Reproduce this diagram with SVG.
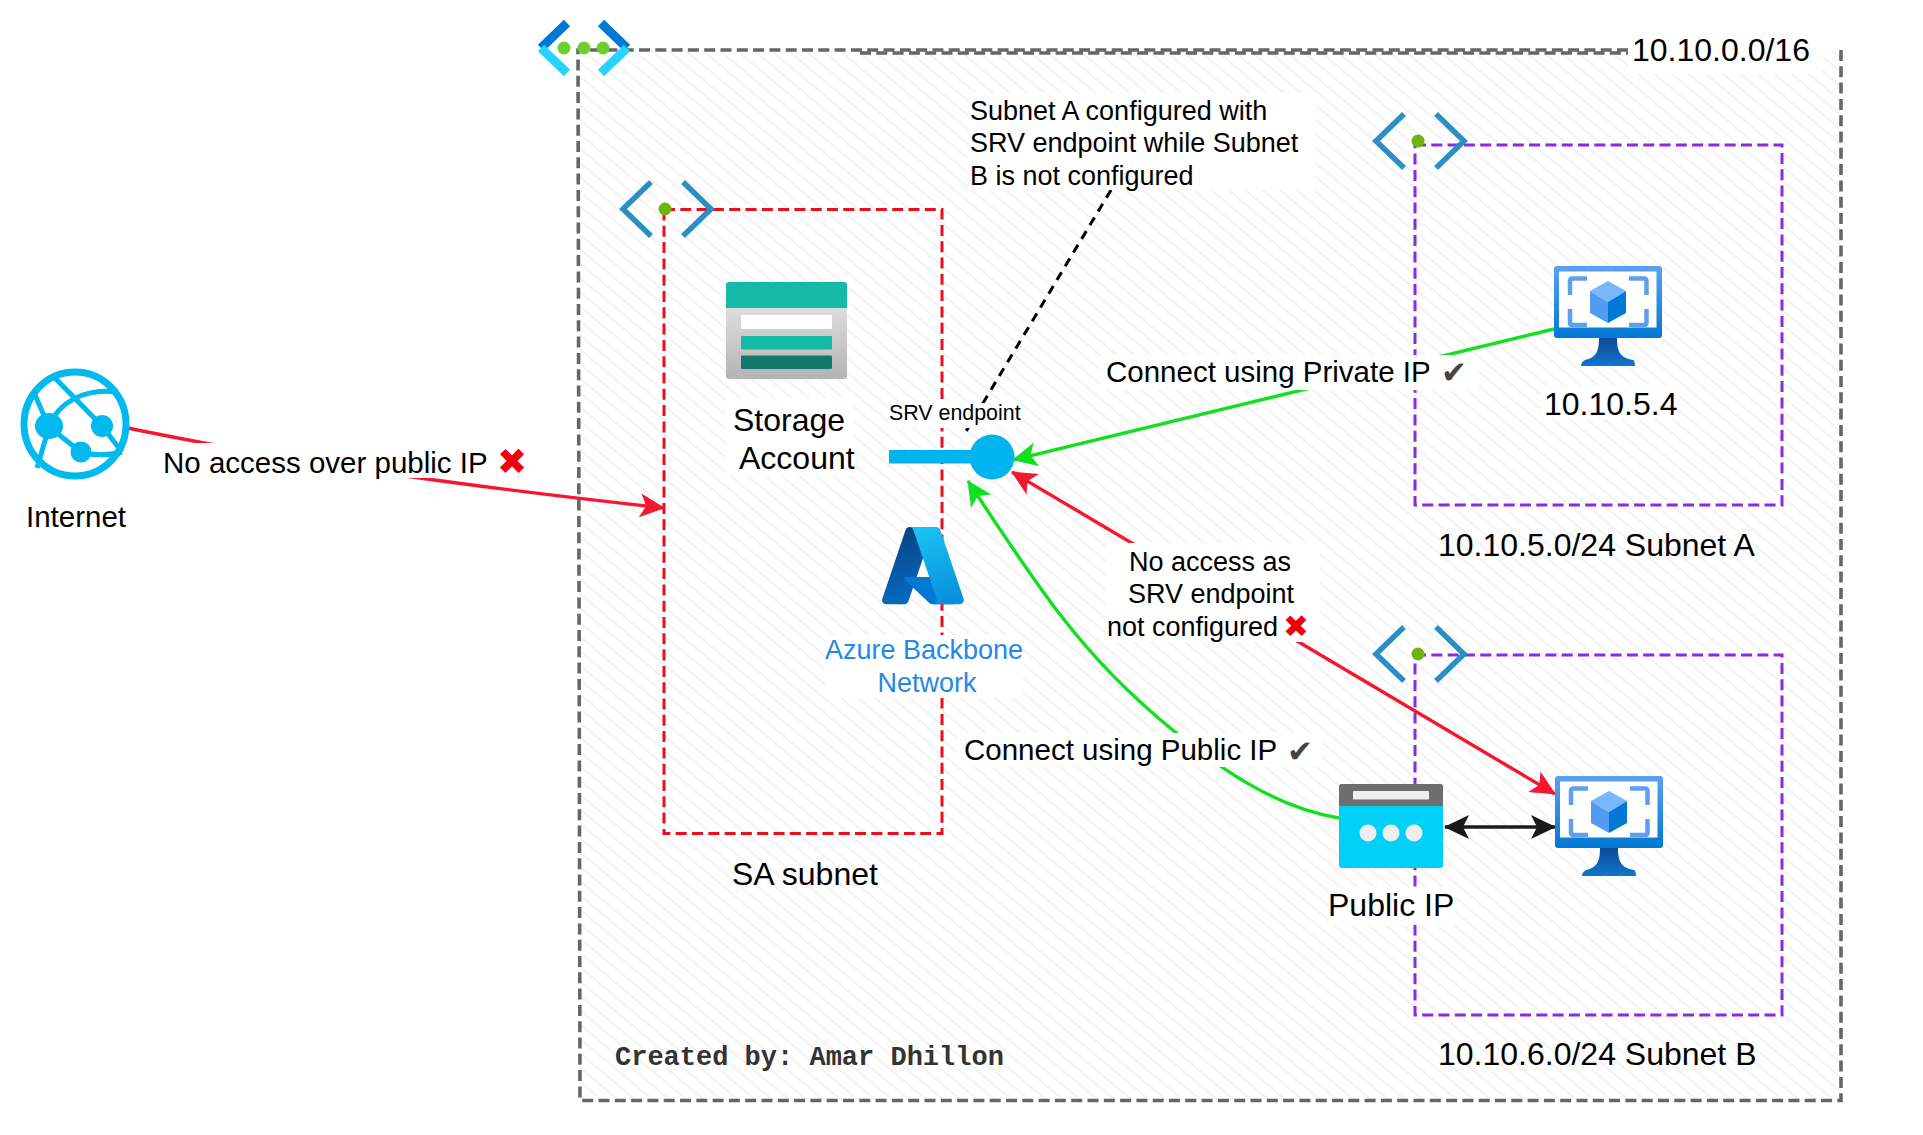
<svg xmlns="http://www.w3.org/2000/svg" xmlns:xlink="http://www.w3.org/1999/xlink" width="1923" height="1135" viewBox="0 0 1923 1135">
<style>
text{font-family:"Liberation Sans",Arial,sans-serif;fill:#000}
.t32{font-size:32px}.t295{font-size:29.5px}.t27{font-size:27px}
.mk{font-family:"DejaVu Sans",sans-serif}
.x{fill:#f0000f}.ck{fill:#444}
.bg{fill:#fff}
.sub{fill:none;stroke-width:3;stroke-dasharray:11 5.3}
.vnet{fill:none;stroke:#666;stroke-width:3.6;stroke-dasharray:11 5.3}
.edge{fill:none;stroke-width:3.4}
.chev{fill:none;stroke:#2a90c4;stroke-width:5.5}
.dot{fill:#6fb40e}
.br{fill:none;stroke:#5ea0ef;stroke-width:4.5}
</style>
<defs>
<pattern id="hatch" width="11" height="11" patternUnits="userSpaceOnUse" patternTransform="rotate(40)">
<rect width="11" height="11" fill="#fff"/><line x1="0" y1="5" x2="11" y2="5" stroke="#f1f1f1" stroke-width="1.6"/>
</pattern>
<marker id="ar" markerUnits="userSpaceOnUse" markerWidth="30" markerHeight="30" refX="25" refY="13" orient="auto-start-reverse"><path d="M26,13 L1,1 L7,13 L1,25z" fill="#f5172f"/></marker>
<marker id="ag" markerUnits="userSpaceOnUse" markerWidth="30" markerHeight="30" refX="25" refY="13" orient="auto-start-reverse"><path d="M26,13 L1,1 L7,13 L1,25z" fill="#10e020"/></marker>
<marker id="ak" markerUnits="userSpaceOnUse" markerWidth="30" markerHeight="30" refX="25" refY="13" orient="auto-start-reverse"><path d="M26,13 L1,1 L7,13 L1,25z" fill="#1a1a1a"/></marker>
<linearGradient id="gm" x1="0" y1="0" x2="0" y2="1"><stop offset="0" stop-color="#5ea0ef"/><stop offset="1" stop-color="#0078d4"/></linearGradient>
<linearGradient id="gs" x1="0" y1="0" x2="0" y2="1"><stop offset="0" stop-color="#0f4a98"/><stop offset="1" stop-color="#0f76cc"/></linearGradient>
<linearGradient id="gst" x1="0" y1="0" x2="0" y2="1"><stop offset="0" stop-color="#ececec"/><stop offset="1" stop-color="#b4b4b4"/></linearGradient>
<linearGradient id="a1" x1="0" y1="0" x2="0.2" y2="1"><stop offset="0" stop-color="#0a3f80"/><stop offset="1" stop-color="#0669bc"/></linearGradient>
<linearGradient id="a2" x1="0.3" y1="0" x2="0.6" y2="1"><stop offset="0" stop-color="#18c3f2"/><stop offset="1" stop-color="#0a8fdc"/></linearGradient>
<g id="snet">
<path class="chev" d="M30,-27 L2,0 L30,27M62,-27 L90,0 L62,27"/>
</g>
<g id="vm">
<rect width="108" height="72" rx="3" fill="url(#gm)"/>
<rect x="5" y="5.5" width="97.5" height="56" fill="#fff"/>
<path class="br" d="M33,12.5H18a2,2 0 0 0-2,2V29M75,12.5H90.5a2,2 0 0 1 2,2V29M16,43V57a2,2 0 0 0 2,2H33M92.5,43V57a2,2 0 0 1-2,2H75"/>
<path d="M54,15L72,25L54,36L36,25z" fill="#7ab6fa"/>
<path d="M36,25L54,36V57L36,47z" fill="#529cf0"/>
<path d="M72,25V47L54,57V36z" fill="#0078d4"/>
<path d="M45,72H63C63,85 66,92 79,94C81,95 81,100 81,100H27C27,97 29,95 31,94C42,92 45,85 45,72z" fill="url(#gs)"/>
</g>
</defs>

<g id="vnet">
<path d="M578,50 H1841 V1100.5 H580 Z" fill="url(#hatch)" stroke="none"/>
<path class="vnet" d="M1841,50 V1100.5 H580 L578,50 H1630"/>
<path class="vnet" d="M860,53 H1630"/>
<rect x="1628" y="28" width="194" height="46" class="bg"/>
<g id="vnet-icon">
<path d="M566,22 L540,48 L566,48" fill="none" stroke="none"/>
<path d="M567,23 L541,48" fill="none" stroke="#0078d4" stroke-width="9"/>
<path d="M541,48 L567,73" fill="none" stroke="#28d4ff" stroke-width="9"/>
<path d="M601,23 L627,48" fill="none" stroke="#0078d4" stroke-width="9"/>
<path d="M627,48 L601,73" fill="none" stroke="#28d4ff" stroke-width="9"/>
<circle cx="564" cy="48" r="6.5" fill="#6ecf2c"/><circle cx="584" cy="48" r="6.5" fill="#6ecf2c"/><circle cx="603" cy="48" r="6.5" fill="#6ecf2c"/>
</g>
<text class="t32" x="1632" y="61">10.10.0.0/16</text>
<text x="615" y="1065" style="font-family:'Liberation Mono',monospace;font-weight:700;font-size:27px;fill:#333">Created by: Amar Dhillon</text>
</g>

<g id="sa-subnet">
<rect class="sub" x="664" y="209.5" width="278" height="624" stroke="#e8101e"/>
<use xlink:href="#snet" href="#snet" x="621" y="209"/>
<circle class="dot" cx="665" cy="209" r="6.5"/>
<text class="t32" x="732" y="885">SA subnet</text>
</g>
<g id="subnet-a">
<rect class="sub" x="1415" y="145" width="367" height="360" stroke="#8a2be2"/>
<use xlink:href="#snet" href="#snet" x="1374" y="141"/>
<circle class="dot" cx="1418" cy="141" r="6.5"/>
<rect class="bg" x="1434" y="520" width="328" height="44" style="display:none"/>
<text class="t32" x="1438" y="556">10.10.5.0/24 Subnet A</text>
</g>
<g id="subnet-b">
<rect class="sub" x="1415" y="655" width="367" height="360" stroke="#8a2be2"/>
<use xlink:href="#snet" href="#snet" x="1374" y="654"/>
<circle class="dot" cx="1418" cy="654" r="6.5"/>
<text class="t32" x="1438" y="1065">10.10.6.0/24 Subnet B</text>
</g>

<g id="connectors">
<path d="M1111,190 L965,433" fill="none" stroke="#000" stroke-width="3" stroke-dasharray="9 7"/>
<path class="edge" stroke="#f5172f" marker-end="url(#ar)" d="M112,425 C210,444 320,470 664,508"/>
<path class="edge" stroke="#10e020" marker-end="url(#ag)" d="M1554,329 L1013,460"/>
<path class="edge" stroke="#f5172f" marker-start="url(#ar)" marker-end="url(#ar)" d="M1012,472 L1555,794"/>
<path class="edge" stroke="#10e020" marker-end="url(#ag)" d="M1339,818 C1280,808 1228,775 1175,732 C1130,695 1095,660 1058,612 C1030,575 1000,530 968,481"/>
<path class="edge" stroke="#1a1a1a" marker-start="url(#ak)" marker-end="url(#ak)" d="M1445,827 H1555"/>
</g>

<g id="edge-labels">
<g id="lbl-internet"><rect class="bg" x="158" y="443" width="378" height="35"/>
<text class="t295" x="163" y="473">No access over public IP <tspan class="mk x" x="497" y="474" font-size="36">✖</tspan></text></g>
<g id="lbl-private"><rect class="bg" x="1100" y="355" width="379" height="35"/>
<text class="t295" x="1106" y="382">Connect using Private IP <tspan class="mk ck" x="1441" y="383" font-size="31">✔</tspan></text></g>
<g id="lbl-public"><rect class="bg" x="957" y="733" width="365" height="34"/>
<text class="t295" x="964" y="760">Connect using Public IP <tspan class="mk ck" x="1287" y="762" font-size="31">✔</tspan></text></g>
<g id="lbl-noaccess"><rect class="bg" x="1106" y="543" width="214" height="99"/>
<text class="t27" x="1210" y="571" text-anchor="middle">No access as</text>
<text class="t27" x="1211" y="603" text-anchor="middle">SRV endpoint</text>
<text class="t27" x="1107" y="636">not configured <tspan class="mk x" x="1283" y="637" font-size="31">✖</tspan></text></g>
<g id="lbl-note"><rect class="bg" x="968" y="93" width="348" height="97"/>
<text class="t27" x="970" y="120">Subnet A configured with</text>
<text class="t27" x="970" y="152">SRV endpoint while Subnet</text>
<text class="t27" x="970" y="185">B is not configured</text></g>
</g>

<g id="internet">
<ellipse cx="75" cy="424" rx="51" ry="52" fill="#fff" stroke="#00b9ee" stroke-width="7"/>
<g fill="none" stroke="#00b9ee" stroke-width="5">
<path d="M52,375 L102,426 L122,452"/>
<path d="M35,395 L49,427 L37,468"/>
<path d="M49,427 C58,402 85,388 117,392"/>
<path d="M49,427 L81,452 C95,456 110,455 122,452"/>
</g>
<ellipse cx="49" cy="426" rx="14" ry="13" fill="#00b9ee"/><ellipse cx="102" cy="426" rx="11" ry="11" fill="#00b9ee"/><ellipse cx="81" cy="452" rx="10.5" ry="10.5" fill="#00b9ee"/>
<text class="t295" x="26" y="527">Internet</text>
</g>

<g id="storage">
<rect x="726" y="282" width="121" height="97" rx="3" fill="url(#gst)"/>
<path d="M726,308V285a3,3 0 0 1 3-3H844a3,3 0 0 1 3,3V308z" fill="#15b9a6"/>
<rect x="741" y="315" width="91" height="14" rx="1" fill="#fff"/>
<rect x="741" y="336" width="91" height="13.5" rx="1" fill="#15b9a6"/>
<rect x="741" y="355.5" width="91" height="13.5" rx="1" fill="#13786c"/>
<rect class="bg" x="726" y="398" width="127" height="78"/>
<text class="t32" x="733" y="431">Storage</text>
<text class="t32" x="739" y="469">Account</text>
</g>

<g id="srv-endpoint">
<rect class="bg" x="888" y="403" width="133" height="25"/>
<text x="889" y="420" font-size="21.4">SRV endpoint</text>
<rect x="889" y="450" width="90" height="13.5" fill="#00b4f0"/>
<circle cx="992" cy="457" r="22.5" fill="#00b4f0"/>
</g>

<g id="azure-backbone">
<g transform="translate(878.3,521) scale(.93)">
<path d="M33.34 6.54h26.04L32.35 86.64a4.15 4.15 0 0 1-3.94 2.83H8.15a4.14 4.14 0 0 1-3.93-5.47L29.4 9.38a4.15 4.15 0 0 1 3.94-2.84z" fill="url(#a1)"/>
<path d="M71.17 60.26H29.88a1.91 1.91 0 0 0-1.3 3.31l26.53 24.76a4.17 4.17 0 0 0 2.85 1.13h23.38z" fill="#0078d4"/>
<path d="M66.6 9.36a4.14 4.14 0 0 0-3.93-2.82H33.65a4.15 4.15 0 0 1 3.93 2.82l25.18 74.62a4.15 4.15 0 0 1-3.93 5.48h29.02a4.15 4.15 0 0 0 3.93-5.48z" fill="url(#a2)"/>
</g>
<rect class="bg" x="825" y="635" width="198" height="63"/>
<text class="t27" x="924" y="659" text-anchor="middle" style="fill:#1f88e8">Azure Backbone</text>
<text class="t27" x="927" y="692" text-anchor="middle" style="fill:#1f88e8">Network</text>
</g>

<g id="vm-a"><use xlink:href="#vm" href="#vm" x="1554" y="266"/>
<rect class="bg" x="1541" y="385" width="139" height="34"/>
<text class="t32" x="1544" y="415">10.10.5.4</text></g>
<g id="vm-b"><use xlink:href="#vm" href="#vm" x="1555" y="776"/></g>

<g id="public-ip">
<rect x="1339" y="784" width="104" height="84" rx="3" fill="#00d0f5"/>
<path d="M1339,806V787a3,3 0 0 1 3-3H1440a3,3 0 0 1 3,3V806z" fill="#6e6e6e"/>
<rect x="1353" y="791" width="76" height="8.5" rx="1" fill="#eee"/>
<circle cx="1368" cy="833" r="8.5" fill="#eee"/><circle cx="1391" cy="833" r="8.5" fill="#eee"/><circle cx="1414" cy="833" r="8.5" fill="#eee"/>
<rect class="bg" x="1328" y="887" width="127" height="38"/>
<text class="t32" x="1328" y="916">Public IP</text>
</g>
</svg>
